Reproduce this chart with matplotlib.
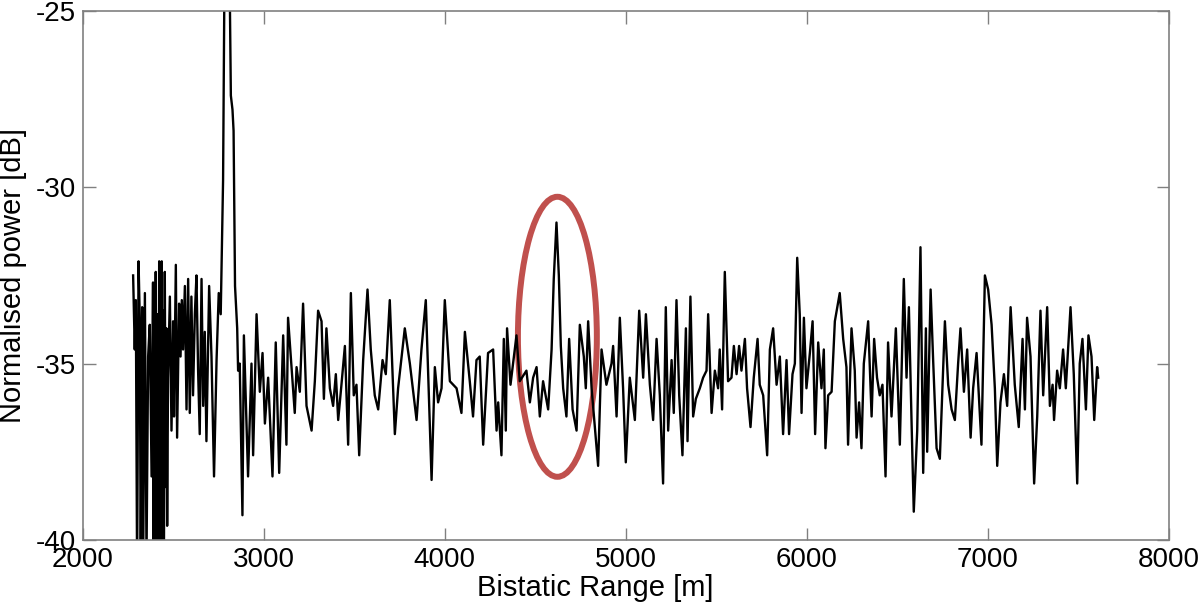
import matplotlib
matplotlib.use("Agg")
import matplotlib.pyplot as plt
from matplotlib.patches import Ellipse

plt.rcParams['font.family'] = ['Liberation Sans', 'DejaVu Sans']
plt.rcParams['axes.unicode_minus'] = False

# Bistatic range [m] and normalised power [dB]
range_m = [
    2278, 2287, 2293, 2300, 2308, 2315, 2320, 2328, 2333, 2343,
    2352, 2361, 2370, 2380, 2388, 2391, 2394, 2397, 2403, 2407,
    2411, 2416, 2422, 2426, 2429, 2433, 2436, 2440, 2444, 2448,
    2453, 2458, 2462, 2466, 2471, 2481, 2490, 2499, 2504, 2514,
    2521, 2532, 2540, 2547, 2554, 2564, 2573, 2582, 2591, 2600,
    2609, 2619, 2628, 2637, 2646, 2656, 2665, 2674, 2683, 2698,
    2711, 2725, 2739, 2751, 2762, 2775, 2786, 2797, 2808, 2818,
    2827, 2833, 2841, 2853, 2858, 2867, 2882,
    2890, 2913, 2932, 2941, 2960, 2978, 2993, 3006, 3024, 3048,
    3066, 3085, 3107, 3125, 3134, 3153, 3171, 3181, 3199, 3217,
    3236, 3264, 3282, 3300, 3319, 3332, 3346, 3365, 3383, 3398,
    3411, 3429, 3448, 3466, 3481, 3497, 3512, 3527, 3549, 3573,
    3591, 3613, 3632, 3656, 3674, 3696, 3724, 3742, 3779, 3807,
    3844, 3871, 3895, 3927, 3945, 3963, 3982, 4000, 4028, 4065,
    4092, 4111, 4138, 4156, 4175, 4193, 4212, 4239, 4267, 4286,
    4295, 4313, 4326, 4337, 4344, 4363, 4377, 4396, 4414, 4451,
    4470, 4488, 4507, 4525, 4543, 4571, 4590, 4602, 4617, 4630,
    4641, 4654, 4672, 4687, 4706, 4728, 4746, 4768, 4779, 4792,
    4811, 4847, 4866, 4893, 4921, 4930, 4949, 4967, 4985, 5000,
    5022, 5050, 5074, 5096, 5111, 5133, 5151, 5170, 5188, 5206,
    5221, 5234, 5253, 5265, 5280, 5295, 5313, 5332, 5341, 5357,
    5372, 5387, 5409, 5427, 5446, 5455, 5474, 5492, 5510, 5519,
    5532, 5547, 5565, 5584, 5597, 5612, 5626, 5639, 5658, 5670,
    5689, 5707, 5728, 5740, 5759, 5781, 5796, 5814, 5833, 5851,
    5869, 5888, 5902, 5921, 5934, 5947, 5961, 5971, 5984, 5998,
    6017, 6032, 6046, 6063, 6081, 6094, 6103, 6118, 6137, 6155,
    6182, 6201, 6219, 6228,
    6247, 6265, 6275, 6289, 6302, 6315, 6339, 6358, 6372, 6388,
    6403, 6418, 6435, 6449, 6468, 6492, 6514, 6536, 6551, 6564,
    6579, 6591, 6610, 6628, 6643, 6658, 6665, 6684, 6698, 6717,
    6735, 6763, 6781, 6800, 6818, 6836, 6849, 6868, 6886, 6905,
    6919, 6938, 6965, 6984, 7002, 7021, 7039, 7052, 7070, 7089,
    7107, 7126, 7149, 7171, 7192, 7205, 7217, 7236, 7256, 7273,
    7291, 7306, 7328, 7343, 7358, 7366, 7383, 7398, 7416, 7431,
    7457, 7475, 7494, 7508, 7523, 7542, 7556, 7573, 7588, 7604,
    7610,
]
power_db = [
    -32.5, -34.6, -33.2, -41.0, -32.1, -33.8, -41.0, -33.4, -41.0, -33.0,
    -40.5, -34.8, -33.9, -38.2, -32.7, -41.0, -34.0, -41.0, -32.4, -41.0,
    -33.6, -41.0, -32.1, -41.0, -33.0, -41.0, -32.1, -40.5, -33.5, -41.0,
    -32.4, -38.5, -34.0, -39.6, -35.4, -33.1, -36.9, -33.8, -36.5, -32.2,
    -37.1, -33.3, -34.8, -33.2, -34.6, -32.8, -36.3, -32.6, -36.4, -33.1,
    -35.9, -33.6, -32.5, -35.2, -37.0, -32.6, -36.2, -34.1, -37.2, -32.8,
    -34.8, -38.2, -34.9, -33.0, -33.6, -29.8, -21.5, -24.0, -22.5, -27.4,
    -27.8, -28.4, -32.8, -34.0, -35.2, -35.0, -39.3,
    -34.2, -38.2, -35.0, -37.6, -33.6, -35.8, -34.7, -36.7, -35.4, -38.2,
    -34.4, -38.1, -34.2, -37.3, -33.7, -35.1, -36.4, -35.1, -35.8, -33.3,
    -36.2, -36.9, -35.5, -33.5, -33.8, -36.0, -34.0, -35.7, -36.2, -35.3,
    -36.6, -35.6, -34.5, -37.3, -33.0, -35.9, -35.6, -37.6, -34.9, -32.9,
    -34.6, -35.9, -36.3, -34.9, -35.3, -33.2, -37.0, -35.7, -34.0, -35.0,
    -36.6, -34.6, -33.2, -38.3, -35.1, -36.1, -35.7, -33.2, -35.5, -35.7,
    -36.4, -34.1, -35.5, -36.5, -34.9, -34.8, -37.3, -34.7, -34.6, -36.9,
    -36.1, -37.6, -34.3, -36.9, -34.0, -35.6, -35.0, -34.2, -35.5, -35.2,
    -36.1, -35.4, -35.1, -36.5, -35.5, -36.3, -34.6, -32.6, -31.0, -32.5,
    -34.5, -35.7, -36.5, -34.3, -36.3, -36.9, -33.9, -34.8, -35.7, -33.8,
    -35.7, -37.9, -34.6, -35.6, -35.0, -34.5, -36.5, -33.7, -35.7, -37.8,
    -35.4, -36.6, -33.5, -35.4, -33.6, -35.6, -36.6, -34.3, -35.9, -38.4,
    -33.4, -36.9, -34.9, -36.4, -33.2, -35.9, -37.6, -34.0, -37.2, -33.1,
    -36.5, -36.0, -35.7, -35.4, -35.2, -33.6, -36.4, -35.2, -35.7, -34.6,
    -36.3, -32.4, -35.5, -35.4, -34.5, -35.3, -34.5, -35.2, -34.3, -35.7,
    -36.8, -35.4, -34.3, -35.6, -35.9, -37.6, -34.6, -34.0, -35.6, -34.8,
    -37.0, -34.9, -37.0, -35.3, -35.0, -32.0, -33.6, -36.4, -33.7, -35.7,
    -34.7, -33.8, -37.0, -34.4, -35.7, -34.6, -37.4, -35.9, -35.8, -33.8,
    -33.0, -34.3, -35.1, -37.3,
    -34.0, -35.2, -37.1, -36.1, -37.4, -35.0, -33.8, -36.5, -34.3, -35.4,
    -35.9, -35.6, -38.2, -34.4, -36.5, -34.0, -37.3, -32.6, -35.4, -33.4,
    -36.7, -39.2, -36.9, -31.7, -38.1, -34.0, -37.5, -32.9, -34.9, -37.4,
    -37.7, -33.8, -35.6, -36.3, -36.6, -35.0, -34.0, -35.8, -34.6, -37.1,
    -35.7, -34.7, -37.3, -32.5, -32.9, -33.9, -35.7, -37.9, -36.1, -35.3,
    -36.2, -33.4, -35.6, -36.8, -34.3, -36.3, -33.7, -34.8, -38.4, -36.5,
    -33.5, -35.9, -33.4, -36.2, -35.6, -36.6, -35.2, -35.7, -34.6, -35.7,
    -33.4, -35.3, -38.4, -35.0, -34.3, -36.3, -34.2, -34.8, -36.6, -35.1,
    -35.4,
]

# highlighted target (ellipse), in data units
target_x, target_y = 4622, -34.24
target_w, target_h = 436, 7.94

fig, ax = plt.subplots(figsize=(12, 6.08), dpi=100)
fig.subplots_adjust(left=0.069, right=0.974, top=0.982, bottom=0.112)

ax.plot(range_m, power_db, color='black', linewidth=1.7)

ax.add_patch(Ellipse((target_x, target_y), target_w, target_h,
                     fill=False, edgecolor='#C0504D', linewidth=4.3))

ax.set_xlim(2000, 8000)
ax.set_ylim(-40, -25)
ax.set_xticks(range(2000, 8001, 1000))
ax.set_yticks([-40, -35, -30, -25])

ax.set_xlabel('Bistatic Range [m]', fontsize=21, labelpad=1, x=0.472)
ax.set_ylabel('Normalised power [dB]', fontsize=21, labelpad=6)
ax.tick_params(direction='in', length=9, width=1, colors='#808080',
               labelcolor='black', labelsize=20, top=True, right=True, pad=5)
for s in ax.spines.values():
    s.set_color('#808080')
    s.set_linewidth(1.2)

fig.savefig('out.png', dpi=100)
